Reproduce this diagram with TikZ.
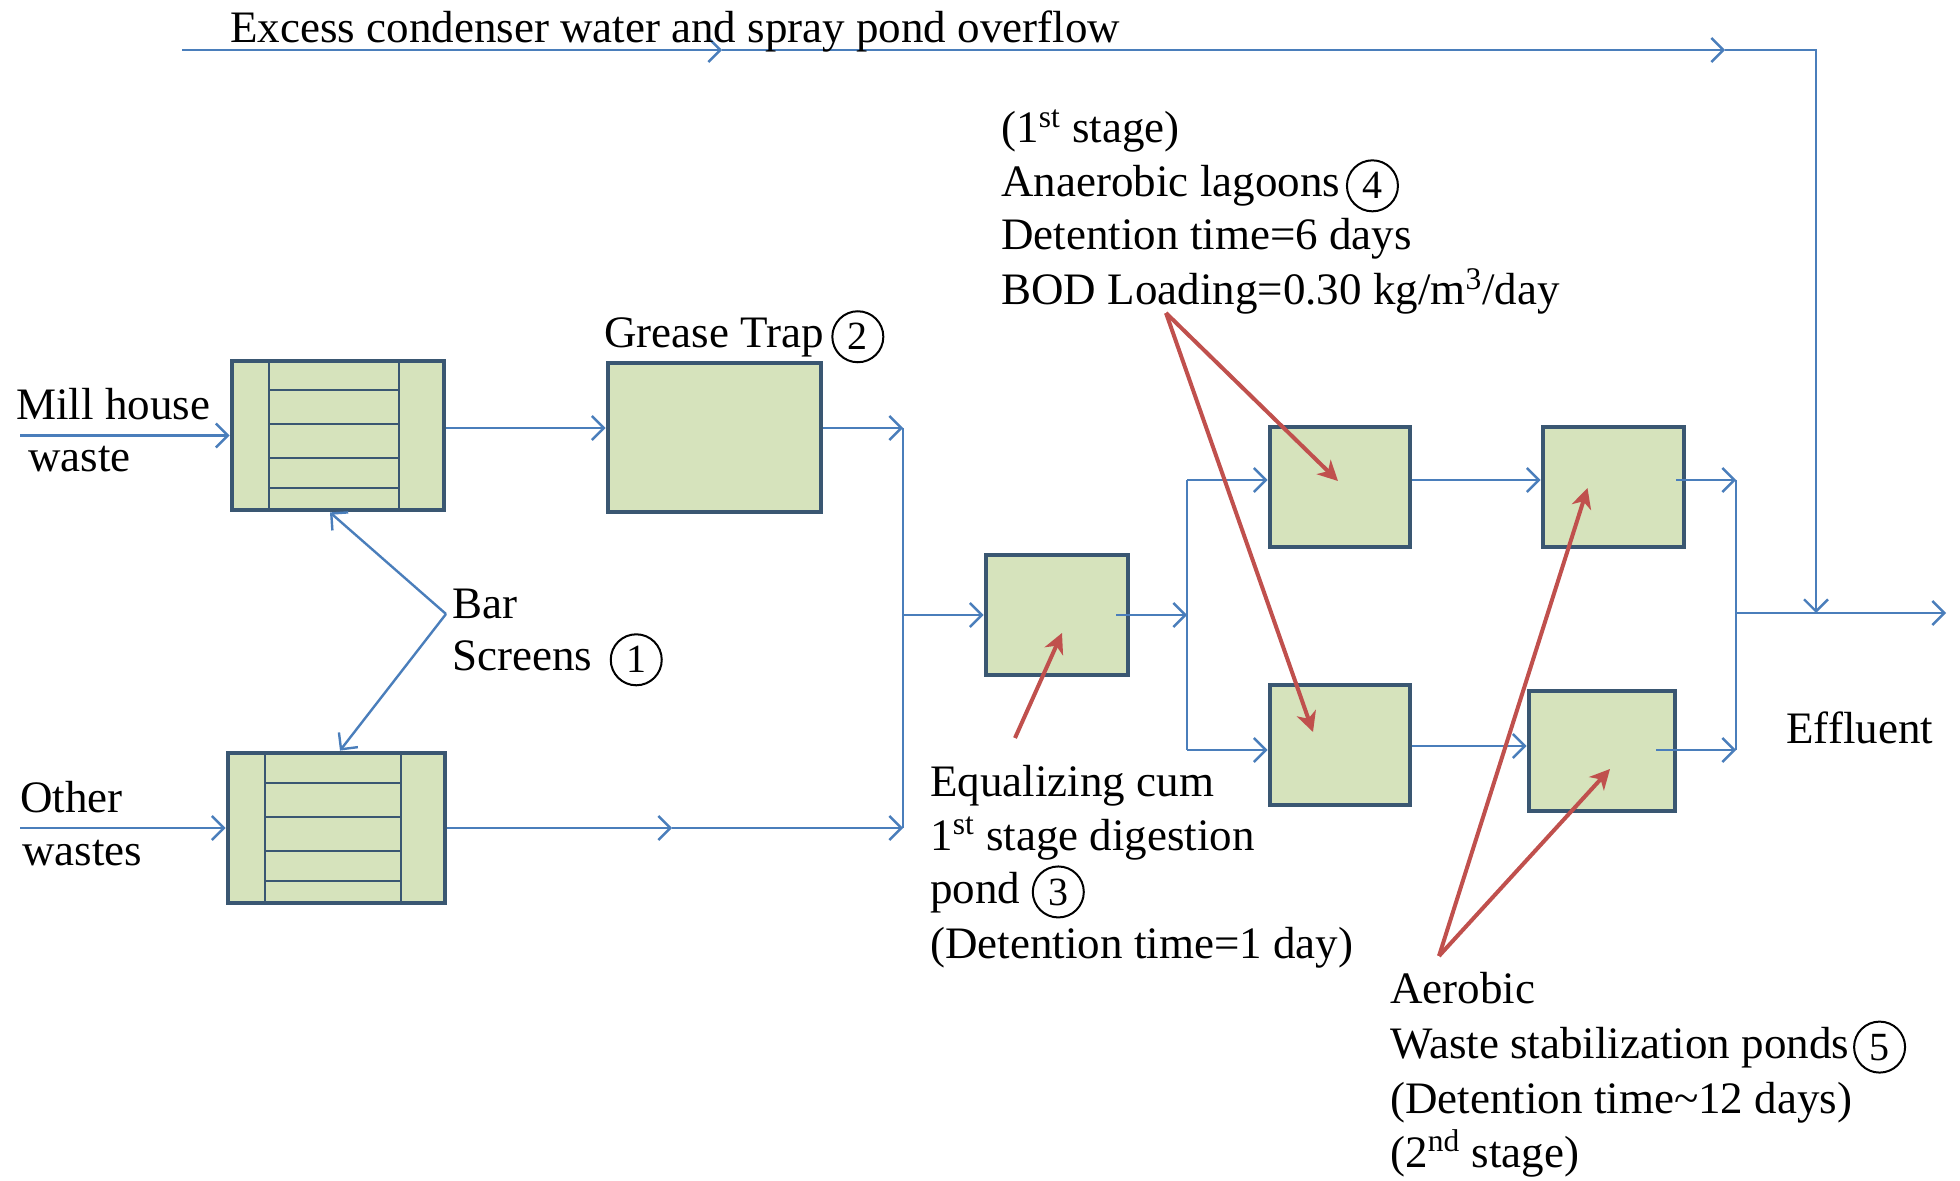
\documentclass[tikz,border=0pt]{standalone}
\usepackage{fontspec}
\setmainfont{Liberation Serif}
\usetikzlibrary{arrows.meta,calc}
\definecolor{boxfill}{HTML}{D6E3BC}
\definecolor{boxline}{HTML}{3A5772}
\definecolor{flowblue}{HTML}{4A7EBB}
\definecolor{redarrow}{HTML}{C0504D}
\tikzset{
  pond/.style={rectangle, draw=boxline, fill=boxfill, line width=2.4pt, inner sep=0pt},
  gridline/.style={draw=boxline, line width=1pt},
  flow/.style={draw=flowblue, line width=1.2pt, -{Straight Barb[length=6pt,width=12pt]}},
  plainflow/.style={draw=flowblue, line width=1.2pt},
  pointer/.style={draw=redarrow, line width=2pt, -{Stealth[length=10pt,width=10pt,inset=3pt]}},
  txt/.style={anchor=base west, inner sep=0pt, font=\fontsize{22.5}{27}\selectfont},
  cnum/.style={circle, draw=black, line width=1pt, inner sep=0pt, minimum size=25.5pt, anchor=base, font=\fontsize{20}{24}\selectfont}
}
\begin{document}
\begin{tikzpicture}[x=0.5pt,y=-0.5pt]
\fill[white] (0,0) rectangle (1960,1181);
\useasboundingbox (0,0) rectangle (1960,1181);

% ---------- boxes ----------
\node[pond, minimum width=106pt, minimum height=74.5pt] (A) at (338,435.5) {};
\node[pond, minimum width=108.5pt, minimum height=75pt] (B) at (336.5,828) {};
\node[pond, minimum width=106.5pt, minimum height=74.5pt] (C) at (714.5,437.5) {};
\node[pond, minimum width=71pt, minimum height=60pt] (Q) at (1057,615) {};
\node[pond, minimum width=70pt, minimum height=60pt] (D1) at (1340,487) {};
\node[pond, minimum width=70pt, minimum height=60pt] (D2) at (1340,745) {};
\node[pond, minimum width=70.5pt, minimum height=60pt] (E1) at (1613.5,487) {};
\node[pond, minimum width=73pt, minimum height=60pt] (E2) at (1602,751) {};

% bar screen grids
\foreach \x in {269,399} \draw[gridline] (\x,361) -- (\x,510);
\foreach \y in {390,424,458,488} \draw[gridline] (269,\y) -- (399,\y);
\foreach \x in {265,401} \draw[gridline] (\x,753) -- (\x,903);
\foreach \y in {783,817,851,881} \draw[gridline] (265,\y) -- (401,\y);

% ---------- coordinates ----------
\coordinate (in1) at (20,435.5);
\coordinate (in2) at (20,828);
\coordinate (r1) at (903,428);
\coordinate (r2) at (903,828);
\coordinate (r3) at (903,615);
\coordinate (m2) at (672,828);
\coordinate (q1) at (1116,615);
\coordinate (s0) at (1187,615);
\coordinate (s1) at (1187,480);
\coordinate (s2) at (1187,750);
\coordinate (d2r) at (1412,746);
\coordinate (e1o) at (1676,480);
\coordinate (e2o) at (1656,750);
\coordinate (t1) at (1736,480);
\coordinate (t2) at (1736,750);
\coordinate (t3) at (1736,613);
\coordinate (eff) at (1946,613);
\coordinate (o0) at (182,50);
\coordinate (om1) at (722,50);
\coordinate (om2) at (1725,50);
\coordinate (o1) at (1816,50);
\coordinate (o2) at (1816,613);
\coordinate (bs) at (446,614);
\coordinate (eqt) at (1015,738);
\coordinate (ana) at (1166,313);
\coordinate (aea) at (1439,956);

% ---------- blue connectors ----------
\draw[flow] (in1) -- (A.west);
\draw[flow] (A.east |- r1) -- (C.west |- r1);
\draw[flow] (C.east |- r1) -- (r1);
\draw[plainflow] (r1) -- (r2);
\draw[flow] (in2) -- (B.west);
\draw[flow] (B.east) -- (m2);
\draw[flow] (m2) -- (r2);
\draw[flow] (r3) -- (Q.west);
\draw[flow] (q1) -- (s0);
\draw[plainflow] (s1) -- (s2);
\draw[flow] (s1) -- (D1.west |- s1);
\draw[flow] (s2) -- (D2.west |- s2);
\draw[flow] (D1.east |- s1) -- (E1.west |- s1);
\draw[flow] (D2.east |- d2r) -- (E2.west |- d2r);
\draw[flow] (e1o) -- (t1);
\draw[flow] (e2o) -- (t2);
\draw[plainflow] (t1) -- (t2);
\draw[flow] (t3) -- (eff);
\draw[flow] (o0) -- (om1);
\draw[flow] (om1) -- (om2);
\draw[flow] (om2) -- (o1) -- (o2);
\draw[flow] (bs) -- ([xshift=-4pt]A.south);
\draw[flow] (bs) -- ([xshift=1.75pt]B.north);

% ---------- red pointers ----------
\draw[pointer] (eqt) -- ([xshift=2.5pt,yshift=-9pt]Q.center);
\draw[pointer] (ana) -- ([xshift=-1pt,yshift=3pt]D1.center);
\draw[pointer] (ana) -- ([xshift=-13.5pt,yshift=6.5pt]D2.center);
\draw[pointer] (aea) -- ([xshift=-13pt,yshift=-0.5pt]E1.center);
\draw[pointer] (aea) -- ([xshift=4pt,yshift=-9pt]E2.center);

% ---------- texts ----------
\node[txt] (ov) at (230,43) {Excess condenser water and spray pond overflow};
\node[txt] (mh1) at (16,420) {Mill house};
\node[txt] (mh2) at (28,472) {waste};
\node[txt] (ow1) at (20,812) {Other};
\node[txt] (ow2) at (22,865) {wastes};
\node[txt] (gt) at (604,348) {Grease Trap};
\node[cnum] (c2) at ([xshift=16.75pt,yshift=-1pt]gt.base east) {2};
\node[txt] (bar1) at (452,618) {Bar};
\node[txt] (bar2) at (452,671) {Screens};
\node[cnum] (c1) at ([xshift=21.75pt,yshift=-1pt]bar2.base east) {1};
\node[txt] (an1) at (1001,143) {(1\textsuperscript{st} stage)};
\node[txt] (an2) at (1001,197) {Anaerobic lagoons};
\node[cnum] (c4) at ([xshift=16pt,yshift=-1pt]an2.base east) {4};
\node[txt] (an3) at (1001,250) {Detention time=6 days};
\node[txt] (an4) at (1001,305) {BOD Loading=0.30 kg/m\textsuperscript{3}/day};
\node[txt] (eq1) at (930,796) {Equalizing cum};
\node[txt] (eq2) at (930,850) {1\textsuperscript{st} stage digestion};
\node[txt] (eq3) at (930,903) {pond};
\node[cnum] (c3) at ([xshift=18.75pt,yshift=-1pt]eq3.base east) {3};
\node[txt] (eq4) at (930,958) {(Detention time=1 day)};
\node[txt] (efl) at (1786,743) {Effluent};
\node[txt] (ae1) at (1390,1003) {Aerobic};
\node[txt] (ae2) at (1390,1058) {Waste stabilization ponds};
\node[cnum] (c5) at ([xshift=15pt,yshift=-1pt]ae2.base east) {5};
\node[txt] (ae3) at (1390,1113) {(Detention time\textasciitilde 12 days)};
\node[txt] (ae4) at (1390,1167) {(2\textsuperscript{nd} stage)};
\end{tikzpicture}
\end{document}
